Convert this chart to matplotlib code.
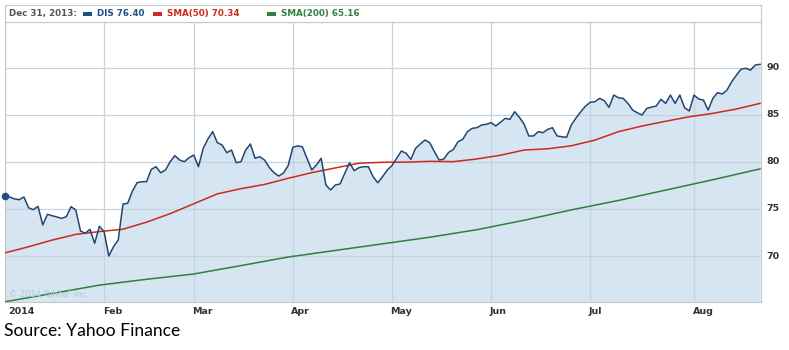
import matplotlib
matplotlib.use("Agg")
import matplotlib.pyplot as plt
import numpy as np
import pandas as pd
from matplotlib.patches import Rectangle

# ---------------- data ----------------
holidays = ["2014-01-01", "2014-01-20", "2014-02-17", "2014-04-18", "2014-05-26", "2014-07-04"]
trade_dates = [d for d in pd.bdate_range("2013-12-31", "2014-08-20") if d.strftime("%Y-%m-%d") not in holidays]

dis_close = [
    76.40, 76.26, 76.06, 75.98, 76.27, 75.13, 74.92, 75.28, 73.30, 74.43,
    74.28, 74.15, 74.00, 74.18, 75.24, 74.89, 72.66, 72.42, 72.84, 71.36,
    73.16, 72.59, 70.01, 71.00, 71.71, 75.52, 75.60, 76.90, 77.79, 77.89,
    77.89, 79.20, 79.48, 78.84, 79.13, 80.01, 80.65, 80.19, 80.01, 80.43,
    80.72, 79.48, 81.43, 82.42, 83.20, 82.03, 81.78, 80.97, 81.25, 79.90,
    80.01, 81.25, 81.89, 80.37, 80.54, 80.19, 79.40, 78.84, 78.49, 78.80,
    79.60, 81.54, 81.68, 81.60, 80.37, 79.13, 79.66, 80.37, 77.54, 77.01,
    77.54, 77.65, 78.78, 79.90, 79.06, 79.38, 79.48, 79.48, 78.42, 77.78,
    78.42, 79.13, 79.60, 80.37, 81.15, 80.90, 80.26, 81.43, 81.89, 82.31,
    82.03, 81.07, 80.19, 80.30, 81.00, 81.30, 82.13, 82.39, 83.20, 83.55,
    83.62, 83.90, 83.98, 84.15, 83.80, 84.19, 84.61, 84.50, 85.31, 84.72,
    84.00, 82.74, 82.74, 83.20, 83.09, 83.44, 83.62, 82.74, 82.66, 82.60,
    83.90, 84.65, 85.30, 85.90, 86.31, 86.37, 86.73, 86.48, 85.78, 87.08,
    86.80, 86.73, 86.20, 85.49, 85.20, 84.96, 85.67, 85.80, 85.92, 86.63,
    86.20, 87.08, 86.20, 87.08, 85.74, 85.39, 87.08, 86.66, 86.55, 85.49,
    86.73, 87.33, 87.19, 87.61, 88.50, 89.20, 89.84, 89.91, 89.73, 90.27,
    90.34,
]

# SMA(50): sampled every 5th trading day
sma50_step = 5
sma50 = [
    70.34, 70.99, 71.70, 72.30, 72.60, 72.85, 73.60, 74.50, 75.55, 76.60,
    77.15, 77.60, 78.25, 78.85, 79.35, 79.85, 79.95, 79.97, 80.05, 80.02,
    80.30, 80.70, 81.25, 81.38, 81.70, 82.30, 83.20, 83.80, 84.30, 84.78,
    85.14, 85.60, 86.20,
]

# SMA(200): sampled every 10th trading day
sma200_step = 10
sma200 = [
    65.16, 66.03, 66.92, 67.54, 68.10, 68.99, 69.90, 70.60, 71.30, 72.00,
    72.80, 73.80, 74.90, 75.90, 77.00, 78.10, 79.25,
]

month_labels = ["2014", "Feb", "Mar", "Apr", "May", "Jun", "Jul", "Aug"]
y_ticks = [70, 75, 80, 85, 90]

legend_date = "Dec 31, 2013:"
legend_items = [("DIS 76.40", "#1f4f8a"), ("SMA(50) 70.34", "#cc2a1c"), ("SMA(200) 65.16", "#2e8040")]

# ---------------- figure ----------------
W, H = 789, 350
fig = plt.figure(figsize=(W / 100, H / 100), dpi=100)
fig.patch.set_facecolor("white")

def fx(px):
    return px / W

def fy(py):
    return 1 - py / H

ax_l, ax_r, ax_t, ax_b = 5, 761, 22, 302
ax = fig.add_axes([fx(ax_l), fy(ax_b), fx(ax_r - ax_l), (ax_b - ax_t) / H])

n = len(dis_close)
idx = np.arange(n)
ax.fill_between(idx, dis_close, 60, color="#d5e5f1", lw=0, zorder=1)

grid_c = "#c5d3de"
for yv in y_ticks:
    ax.axhline(yv, color=grid_c, lw=0.9, zorder=2)

# month gridlines at last trading day before each month change
tick_pos = [i for i in range(n - 1) if trade_dates[i + 1].month != trade_dates[i].month]
for tp in tick_pos:
    ax.axvline(tp, color=grid_c, lw=0.9, zorder=2)

sma50_x = np.arange(len(sma50)) * sma50_step
sma200_x = np.arange(len(sma200)) * sma200_step
ax.plot(sma200_x, sma200, color="#2e8040", lw=1.1, zorder=3)
ax.plot(sma50_x, sma50, color="#cc2a1c", lw=1.1, zorder=3)
ax.plot(idx, dis_close, color="#24466e", lw=1.1, zorder=4)
ax.plot([0], [dis_close[0]], "o", color="#1f4f8a", ms=4.5, zorder=5, clip_on=False)

ax.set_xlim(0, 160.2)
ax.set_ylim(65.13, 94.83)
ax.set_xticks([])
ax.set_yticks([])
for s in ax.spines.values():
    s.set_color("#c8c8c8")
    s.set_linewidth(0.8)

ax.text(0.005, 0.012, "© 2014 Yahoo! Inc.", transform=ax.transAxes, fontsize=6,
        color="#b9c7d3", ha="left", va="bottom", zorder=6)

lab_c = "#333333"
for tp, lab in zip(tick_pos, month_labels):
    ax.text(max(tp - 0.3, 0.6), 64.65, lab, fontsize=6.8, fontweight="bold", color=lab_c,
            ha="left", va="top", clip_on=False)
for yv in y_ticks:
    ax.text(161.3, yv, str(yv), fontsize=6.8, fontweight="bold", color=lab_c,
            ha="left", va="center", clip_on=False)

# header box
hdr = Rectangle((fx(5), fy(22)), fx(756), 17 / H, transform=fig.transFigure,
                facecolor="white", edgecolor="#c8c8c8", lw=0.8)
fig.patches.append(hdr)
ty = fy(13.5)
fig.text(fx(9), ty, legend_date, fontsize=6.3, fontweight="bold", color="#555555", va="center")
sq_x = [83, 153, 267]
tx_x = [97, 167, 281]
for (txt, col), sx, tx in zip(legend_items, sq_x, tx_x):
    fig.patches.append(Rectangle((fx(sx), fy(16)), fx(9), 4 / H, transform=fig.transFigure,
                                 facecolor=col, edgecolor="none"))
    fig.text(fx(tx), ty, txt, fontsize=6.3, fontweight="bold", color=col, va="center")

fig.text(fx(4), fy(331), "Source: Yahoo Finance", fontsize=12.6, color="black",
         va="center", ha="left", family="Lato")

fig.savefig("out.png", dpi=100, facecolor="white")
